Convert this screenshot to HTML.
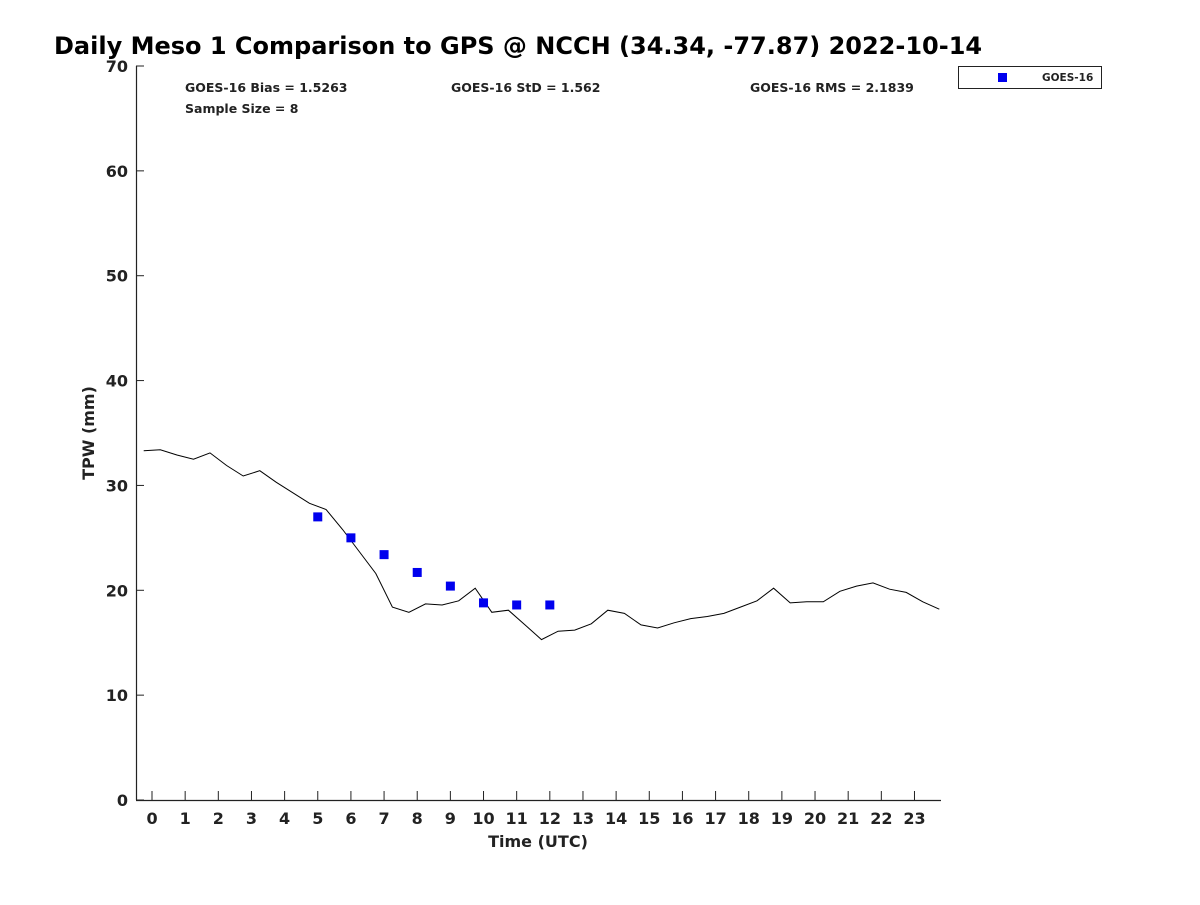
<!DOCTYPE html>
<html><head><meta charset="utf-8"><style>
html,body{margin:0;padding:0;background:#fff;}
svg text{font-family:"DejaVu Sans","Liberation Sans",sans-serif;font-weight:bold;}
</style></head><body>
<svg id="chart" width="1200" height="900" xmlns="http://www.w3.org/2000/svg">
<rect width="1200" height="900" fill="#fff"/>
<text x="54" y="54" font-size="24" fill="#000">Daily Meso 1 Comparison to GPS @ NCCH (34.34, -77.87) 2022-10-14</text>
<text x="185" y="92" font-size="12.5" fill="#222">GOES-16 Bias = 1.5263</text>
<text x="451" y="92" font-size="12.5" fill="#222">GOES-16 StD = 1.562</text>
<text x="750" y="92" font-size="12.5" fill="#222">GOES-16 RMS = 2.1839</text>
<text x="185" y="113" font-size="12.5" fill="#222">Sample Size = 8</text>
<g id="axes"></g>
<g id="marks"></g>
<text x="538" y="847" font-size="16" text-anchor="middle" fill="#222">Time (UTC)</text>
<text transform="translate(94,433) rotate(-90)" font-size="16" text-anchor="middle" fill="#222">TPW (mm)</text>
<g>
<rect x="958.5" y="66.5" width="143" height="22" fill="#fff" stroke="#222" stroke-width="1"/>
<rect x="998" y="73" width="9" height="9" fill="#0000ee"/>
<text x="1042" y="81" font-size="10.5" fill="#222">GOES-16</text>
</g>
</svg>
<script>
const gpsHours = [-0.25,0.25,0.75,1.25,1.75,2.25,2.75,3.25,3.75,4.25,4.75,5.25,5.75,6.25,6.75,7.25,7.75,8.25,8.75,9.25,9.75,10.25,10.75,11.25,11.75,12.25,12.75,13.25,13.75,14.25,14.75,15.25,15.75,16.25,16.75,17.25,17.75,18.25,18.75,19.25,19.75,20.25,20.75,21.25,21.75,22.25,22.75,23.25,23.75];
const gpsTPW = [33.3,33.4,32.9,32.5,33.1,31.9,30.9,31.4,30.3,29.3,28.3,27.7,25.8,23.7,21.6,18.4,17.9,18.7,18.6,19.0,20.2,17.9,18.1,16.7,15.3,16.1,16.2,16.8,18.1,17.8,16.7,16.4,16.9,17.3,17.5,17.8,18.4,19.0,20.2,18.8,18.9,18.9,19.9,20.4,20.7,20.1,19.8,18.9,18.2];
const goesHours = [5,6,7,8,9,10,11,12];
const goesTPW = [27.0,25.0,23.4,21.7,20.4,18.8,18.6,18.6];
const xTicks = [0,1,2,3,4,5,6,7,8,9,10,11,12,13,14,15,16,17,18,19,20,21,22,23];
const yTicks = [0,10,20,30,40,50,60,70];

const NS='http://www.w3.org/2000/svg';
const L=136,R=941,T=66,B=800;
const xMin=-0.483,xMax=23.8,yMin=0,yMax=70;
const xs=h=>L+(h-xMin)/(xMax-xMin)*(R-L);
const ys=v=>B-(v-yMin)/(yMax-yMin)*(B-T);
function mk(tag,attrs,parent){const e=document.createElementNS(NS,tag);for(const k in attrs)e.setAttribute(k,attrs[k]);parent.appendChild(e);return e;}
const axes=document.getElementById('axes'),marks=document.getElementById('marks');
const xl=mk('line',{x1:L,y1:B+0.5,x2:R,y2:B+0.5,stroke:'#222','stroke-width':1.2},axes);


const yl=mk('line',{x1:L+0.5,y1:T,x2:L+0.5,y2:B,stroke:'#222','stroke-width':1.2},axes);


xTicks.forEach(t=>{const x=xs(t);
 const tk=mk('line',{x1:x,y1:B,x2:x,y2:B-9,stroke:'#222','stroke-width':1},axes);
 
 
 const tx=mk('text',{x:x,y:B+24,'font-size':16,'text-anchor':'middle',fill:'#222'},axes);tx.textContent=t;
 
 });
yTicks.forEach(t=>{const y=ys(t);
 const tk=mk('line',{x1:L,y1:y,x2:L+8,y2:y,stroke:'#222','stroke-width':1},axes);
 
 
 const tx=mk('text',{x:L-8,y:y+6,'font-size':16,'text-anchor':'end',fill:'#222'},axes);tx.textContent=t;
 
 });
const pts=gpsHours.map((h,i)=>xs(h).toFixed(1)+','+ys(gpsTPW[i]).toFixed(1)).join(' ');
const pl=mk('polyline',{points:pts,fill:'none',stroke:'#000','stroke-width':1},marks);


goesHours.forEach((h,i)=>{const r=mk('rect',{x:xs(h)-4.5,y:ys(goesTPW[i])-4.5,width:9,height:9,fill:'#0000ee'},marks);
 
 });
</script>
</body></html>
